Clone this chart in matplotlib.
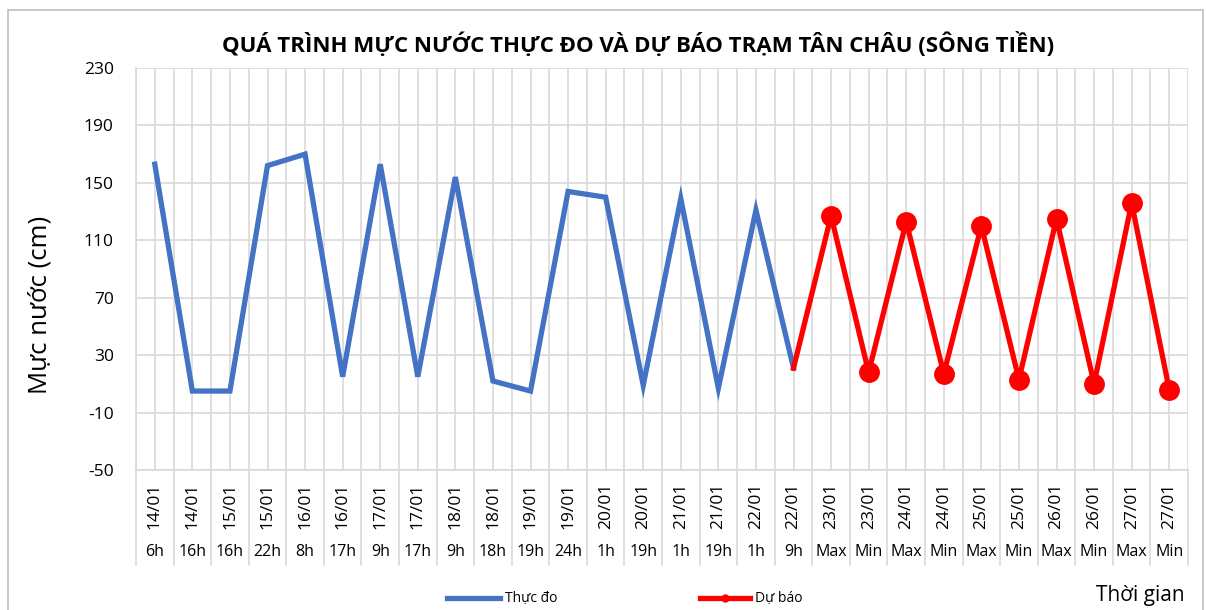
import numpy as np
import matplotlib.pyplot as plt
import matplotlib.transforms as mtransforms

plt.rcParams['font.family'] = ['Open Sans', 'DejaVu Sans']
plt.rcParams['axes.unicode_minus'] = False

# ---- data ----
dates = ["14/01", "14/01", "15/01", "15/01", "16/01", "16/01", "17/01", "17/01",
         "18/01", "18/01", "19/01", "19/01", "20/01", "20/01", "21/01", "21/01",
         "22/01", "22/01", "23/01", "23/01", "24/01", "24/01", "25/01", "25/01",
         "26/01", "26/01", "27/01", "27/01"]
hours = ["6h", "16h", "16h", "22h", "8h", "17h", "9h", "17h", "9h", "18h", "19h",
         "24h", "1h", "19h", "1h", "19h", "1h", "9h", "Max", "Min", "Max", "Min",
         "Max", "Min", "Max", "Min", "Max", "Min"]
observed = [163, 5, 5, 162, 170, 15, 163, 15, 154, 12, 5, 144, 140, 9, 139, 7, 131, 21]
forecast = [21, 127, 18, 123, 17, 120, 13, 125, 10, 136, 6]

n = len(dates)
x_obs = np.arange(len(observed))
x_fc = np.arange(len(observed) - 1, n)

fig = plt.figure(figsize=(12.06, 6.10), dpi=100)
ax = fig.add_axes([136 / 1206, 140 / 610, 1052 / 1206, 402 / 610])

grid_c = "#D9D9D9"
ax.set_xlim(-0.5, n - 0.5)
ax.set_ylim(-50, 230)
ax.set_yticks(np.arange(-50, 231, 40))
ax.set_xticks(np.arange(n))
ax.set_xticks(np.arange(n + 1) - 0.5, minor=True)
ax.grid(True, which="both", color=grid_c, lw=1.2, zorder=0)
ax.tick_params(axis="x", which="both", length=0, labelbottom=False)
ax.tick_params(axis="y", length=0, labelsize=12.5, pad=16)
for s in ["top", "right"]:
    ax.spines[s].set_visible(False)
for s in ["left", "bottom"]:
    ax.spines[s].set_color(grid_c)
    ax.spines[s].set_linewidth(1.2)

ax.plot(x_obs, observed, color="#4472C4", lw=3.8, solid_joinstyle="miter", zorder=3)
ax.plot(x_fc, forecast, color="#FF0000", lw=3.8, zorder=4)
ax.plot(x_fc[1:], forecast[1:], "o", color="#FF0000", ms=14, zorder=5)

# multi-level category labels
trans = mtransforms.blended_transform_factory(ax.transData, ax.transAxes)
for i in range(n):
    ax.text(i, -0.09, dates[i], rotation=90, ha="center", va="center",
            fontsize=12.5, transform=trans)
    ax.text(i, -0.204, hours[i], ha="center", va="center", fontsize=11.5,
            transform=trans)
for b in np.arange(n + 1) - 0.5:
    ax.plot([b, b], [0, -0.236], color=grid_c, lw=1.2, transform=trans,
            clip_on=False)

fig.text(40 / 1206, 1 - 305 / 610, "Mực nước (cm)", rotation=90, ha="center",
         va="center", fontsize=18.5)
fig.text(638 / 1206, 1 - 45 / 610, "QUÁ TRÌNH MỰC NƯỚC THỰC ĐO VÀ DỰ BÁO TRẠM TÂN CHÂU (SÔNG TIỀN)",
         ha="center", va="center", fontsize=16, fontweight="bold")
fig.text(1185 / 1206, 1 - 596 / 610, "Thời gian", ha="right", va="center", fontsize=15)

# legend
fig.lines.append(plt.Line2D([447 / 1206, 500 / 1206], [1 - 598 / 610] * 2,
                            color="#4472C4", lw=3.8, transform=fig.transFigure))
fig.text(505 / 1206, 1 - 598 / 610, "Thực đo", ha="left", va="center", fontsize=10)
fig.lines.append(plt.Line2D([700 / 1206, 750 / 1206], [1 - 598 / 610] * 2,
                            color="#FF0000", lw=3.8, transform=fig.transFigure))
fig.lines.append(plt.Line2D([725 / 1206], [1 - 598 / 610], color="#FF0000",
                            marker="o", ms=5, transform=fig.transFigure))
fig.text(755 / 1206, 1 - 598 / 610, "Dự báo", ha="left", va="center", fontsize=10)

# outer chart border
fig.patches.append(plt.Rectangle((8 / 1206, -0.01), 1195 / 1206, 1 - 10 / 610 + 0.01,
                                 fill=False, ec="#BFBFBF", lw=1.2,
                                 transform=fig.transFigure))

fig.savefig("out.png", dpi=100)
